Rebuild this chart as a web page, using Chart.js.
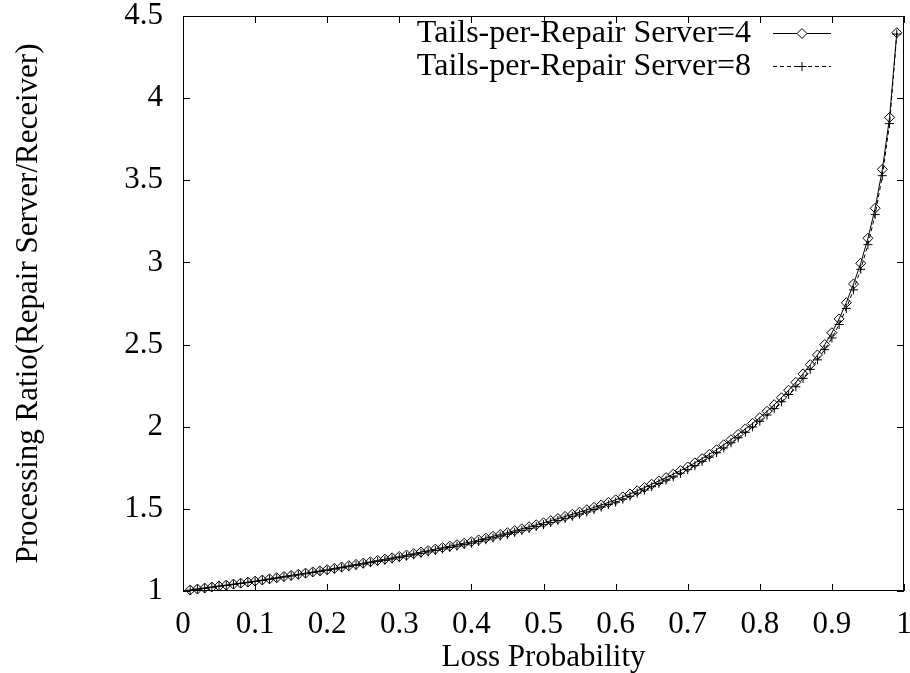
<!DOCTYPE html>
<html>
<head>
<meta charset="utf-8">
<script src="https://cdn.jsdelivr.net/npm/chart.js@4.4.0/dist/chart.umd.min.js"></script>
<style>
  html, body { margin: 0; padding: 0; background: #fff; }
  #wrap { width: 910px; height: 673px; }
</style>
</head>
<body>
<div id="wrap"><canvas id="lossChart" width="910" height="673"></canvas></div>
<script>
// loss probability (x), 0.01 .. 0.99
const lossProb = [
  0.01,0.02,0.03,0.04,0.05,0.06,0.07,0.08,0.09,0.10,
  0.11,0.12,0.13,0.14,0.15,0.16,0.17,0.18,0.19,0.20,
  0.21,0.22,0.23,0.24,0.25,0.26,0.27,0.28,0.29,0.30,
  0.31,0.32,0.33,0.34,0.35,0.36,0.37,0.38,0.39,0.40,
  0.41,0.42,0.43,0.44,0.45,0.46,0.47,0.48,0.49,0.50,
  0.51,0.52,0.53,0.54,0.55,0.56,0.57,0.58,0.59,0.60,
  0.61,0.62,0.63,0.64,0.65,0.66,0.67,0.68,0.69,0.70,
  0.71,0.72,0.73,0.74,0.75,0.76,0.77,0.78,0.79,0.80,
  0.81,0.82,0.83,0.84,0.85,0.86,0.87,0.88,0.89,0.90,
  0.91,0.92,0.93,0.94,0.95,0.96,0.97,0.98,0.99
];

// tails-per-repair server = 4
const tails4 = [
  1.006,1.012,1.018,1.024,1.030,1.036,1.042,1.048,1.054,1.060,
  1.067,1.074,1.081,1.088,1.095,1.102,1.109,1.116,1.123,1.130,
  1.138,1.146,1.154,1.162,1.170,1.178,1.186,1.194,1.202,1.210,
  1.219,1.228,1.237,1.246,1.255,1.264,1.273,1.282,1.291,1.300,
  1.311,1.322,1.333,1.344,1.355,1.367,1.379,1.391,1.403,1.415,
  1.428,1.441,1.454,1.467,1.480,1.494,1.509,1.524,1.539,1.555,
  1.573,1.591,1.610,1.630,1.650,1.670,1.690,1.711,1.733,1.755,
  1.780,1.806,1.832,1.860,1.890,1.921,1.953,1.987,2.020,2.055,
  2.094,2.134,2.176,2.222,2.270,2.322,2.378,2.437,2.500,2.572,
  2.656,2.755,2.869,2.995,3.147,3.330,3.567,3.883,4.398
];

// tails-per-repair server = 8
const tails8 = [
  1.005,1.011,1.017,1.023,1.029,1.034,1.040,1.046,1.052,1.058,
  1.064,1.071,1.078,1.085,1.091,1.098,1.105,1.112,1.118,1.125,
  1.133,1.141,1.148,1.156,1.164,1.172,1.180,1.187,1.195,1.203,
  1.212,1.220,1.229,1.238,1.247,1.256,1.265,1.273,1.282,1.291,
  1.301,1.312,1.323,1.334,1.345,1.357,1.368,1.380,1.392,1.404,
  1.417,1.429,1.442,1.455,1.468,1.481,1.496,1.511,1.526,1.541,
  1.559,1.577,1.596,1.615,1.635,1.655,1.675,1.695,1.717,1.739,
  1.763,1.789,1.815,1.842,1.871,1.902,1.933,1.966,1.999,2.033,
  2.071,2.110,2.152,2.196,2.243,2.294,2.349,2.407,2.469,2.540,
  2.622,2.720,2.833,2.958,3.108,3.292,3.528,3.845,4.390
];

const xTicks = [0, 0.1, 0.2, 0.3, 0.4, 0.5, 0.6, 0.7, 0.8, 0.9, 1];
const yTicks = [1, 1.5, 2, 2.5, 3, 3.5, 4, 4.5];
const seriesNames = ['Tails-per-Repair Server=4', 'Tails-per-Repair Server=8'];

const FONT = "'Liberation Serif', 'Times New Roman', serif";
const FS = 31;

// gnuplot look: closed frame, inward mirrored ticks, key in the top right
const gnuFrame = {
  id: 'gnuFrame',
  afterDatasetsDraw(chart) {
    const ctx = chart.ctx;
    const a = chart.chartArea;
    const xs = chart.scales.x, ys = chart.scales.y;
    const tl = 7;
    ctx.save();
    ctx.strokeStyle = '#000';
    ctx.lineWidth = 1;
    ctx.setLineDash([]);
    ctx.strokeRect(a.left + 0.5, a.top + 0.5, a.right - a.left - 1, a.bottom - a.top - 1);
    ctx.beginPath();
    xTicks.forEach(v => {
      const px = Math.round(xs.getPixelForValue(v)) + 0.5;
      ctx.moveTo(px, a.bottom); ctx.lineTo(px, a.bottom - tl);
      ctx.moveTo(px, a.top); ctx.lineTo(px, a.top + tl);
    });
    yTicks.forEach(v => {
      const py = Math.round(ys.getPixelForValue(v)) + 0.5;
      ctx.moveTo(a.left, py); ctx.lineTo(a.left + tl, py);
      ctx.moveTo(a.right, py); ctx.lineTo(a.right - tl, py);
    });
    ctx.stroke();

    // key
    ctx.font = '32px ' + FONT;
    ctx.textAlign = 'right';
    ctx.textBaseline = 'middle';
    const rows = [33, 66];
    chart.data.datasets.forEach((ds, i) => {
      const yy = rows[i] + 0.5;
      ctx.fillStyle = '#000';
      ctx.fillText(seriesNames[i], 751, rows[i] + 1);
      ctx.beginPath();
      ctx.setLineDash(ds.borderDash || []);
      ctx.lineWidth = ds.borderWidth;
      ctx.moveTo(773, yy); ctx.lineTo(831, yy);
      ctx.stroke();
      ctx.setLineDash([]);
      ctx.fillStyle = '#fff';
      Chart.helpers.drawPoint(ctx, {
        pointStyle: ds.pointStyle, radius: ds.pointRadius, rotation: 0, borderWidth: 1
      }, 802, yy);
    });
    ctx.restore();
  }
};

document.addEventListener('DOMContentLoaded', function () {
  const ctx = document.getElementById('lossChart').getContext('2d');
  new Chart(ctx, {
    type: 'line',
    data: {
      datasets: [
        {
          label: seriesNames[0],
          data: lossProb.map((p, i) => ({ x: p, y: tails4[i] })),
          borderColor: '#000',
          borderWidth: 1,
          pointStyle: 'rectRot',
          pointRadius: 5,
          pointBorderWidth: 1,
          pointBorderColor: '#000',
          pointBackgroundColor: 'rgba(0,0,0,0)',
          tension: 0,
          clip: false
        },
        {
          label: seriesNames[1],
          data: lossProb.map((p, i) => ({ x: p, y: tails8[i] })),
          borderColor: '#000',
          borderWidth: 1,
          borderDash: [4, 3],
          pointStyle: 'cross',
          pointRadius: 4.5,
          pointBorderWidth: 1,
          pointBorderColor: '#000',
          pointBackgroundColor: 'rgba(0,0,0,0)',
          tension: 0,
          clip: false
        }
      ]
    },
    options: {
      responsive: false,
      animation: false,
      devicePixelRatio: 1,
      layout: { padding: { top: 16, right: 6, left: 0, bottom: 0 } },
      plugins: { legend: { display: false }, tooltip: { enabled: false } },
      scales: {
        x: {
          type: 'linear', min: 0, max: 1,
          afterBuildTicks: s => { s.ticks = xTicks.map(v => ({ value: v })); },
          afterFit: s => { s.height = 82; s.paddingLeft = 0; s.paddingRight = 0; },
          grid: { display: false, drawTicks: false, tickLength: 0 },
          border: { display: false },
          ticks: {
            autoSkip: false, maxRotation: 0, padding: 15, color: '#000',
            font: { family: FONT, size: FS, lineHeight: 1.2 },
            callback: v => String(v)
          },
          title: {
            display: true, text: 'Loss Probability', color: '#000',
            font: { family: FONT, size: FS, lineHeight: 1 },
            padding: { top: 0, bottom: 0 }
          }
        },
        y: {
          type: 'linear', min: 1, max: 4.5,
          afterBuildTicks: s => { s.ticks = yTicks.map(v => ({ value: v })); },
          afterFit: s => { s.width = 183; s.paddingTop = 0; s.paddingBottom = 0; },
          grid: { display: false, drawTicks: false, tickLength: 0 },
          border: { display: false },
          ticks: {
            autoSkip: false, padding: 20, color: '#000',
            font: { family: FONT, size: FS, lineHeight: 1.2 },
            callback: v => String(v)
          },
          title: {
            display: true, text: 'Processing Ratio(Repair Server/Receiver)', color: '#000',
            font: { family: FONT, size: FS, lineHeight: 1.2 },
            padding: { top: 10, bottom: 0 }
          }
        }
      }
    },
    plugins: [gnuFrame]
  });
});
</script>
</body>
</html>
